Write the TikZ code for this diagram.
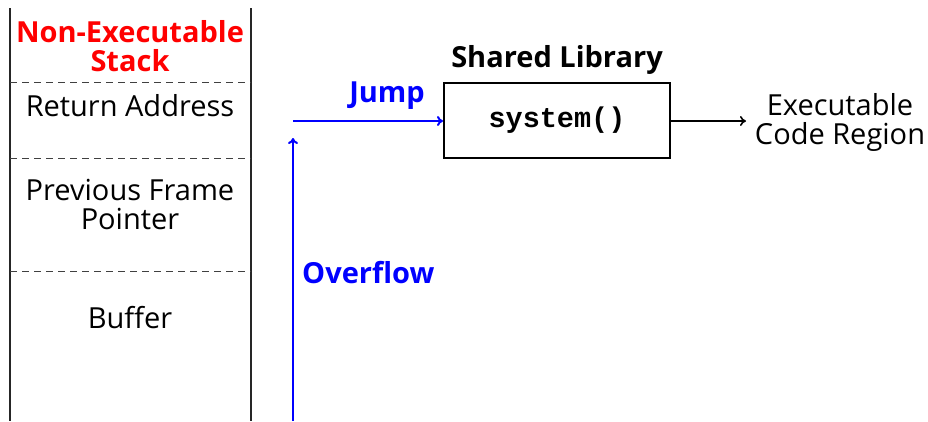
\documentclass[tikz,border=0pt]{standalone}
\usepackage{fontspec}
\setmainfont{Open Sans}
\newfontfamily\codefont{Liberation Mono}
\usetikzlibrary{arrows.meta}
\begin{document}
\begin{tikzpicture}[x=1pt,y=-1pt,
  lbl/.style={font=\fontsize{29}{29}\selectfont, align=center, inner sep=0pt},
  blbl/.style={font=\fontsize{29}{29}\selectfont\bfseries, align=center, inner sep=0pt},
  wall/.style={line width=2pt, black!85},
  divider/.style={dashed, dash pattern=on 7pt off 5pt, line width=1pt, black!75},
  blueflow/.style={blue, line width=2pt, -{To[length=6pt,width=10pt]}},
  blackflow/.style={black, line width=1.6pt, -{To[length=6pt,width=10pt]}},
  libbox/.style={draw, line width=2pt, minimum width=226pt, minimum height=75pt, inner sep=0pt}
]
\useasboundingbox (0,0) rectangle (928,421);
% stack walls
\draw[wall] (10,8) -- (10,421);
\draw[wall] (251,8) -- (251,421);
\draw[divider] (10,82) -- (251,82);
\draw[divider] (10,158) -- (251,158);
\draw[divider] (10,271) -- (251,271);
\node[blbl, text=red] (stack) at (130,46) {Non-Executable\\Stack};
\node[lbl] (ret) at (130,106) {Return Address};
\node[lbl] (pfp) at (130,204) {Previous Frame\\Pointer};
\node[lbl] (buf) at (130,318) {Buffer};
% library
\node[libbox] (lib) at (557,120.5) {\codefont\fontsize{28.5}{30}\selectfont\bfseries system()};
\node[blbl] (libtitle) at (557,60) {Shared Library};
\node[lbl] (exec) at (840,122) {Executable\\Code Region};
% arrows
\coordinate (ovstart) at (293,421);
\coordinate (ovend) at (293,138);
\coordinate (jstart) at (293,121);
\draw[blueflow] (ovstart) -- (ovend);
\draw[blueflow] (jstart) -- (lib.west |- jstart);
\draw[blackflow] (lib.east |- jstart) -- (746,121) coordinate (execin);
\node[blbl, text=blue] (jump) at (387,96) {Jump};
\node[blbl, text=blue, anchor=west] (ovf) at (302,273) {Overflow};
\end{tikzpicture}
\end{document}
